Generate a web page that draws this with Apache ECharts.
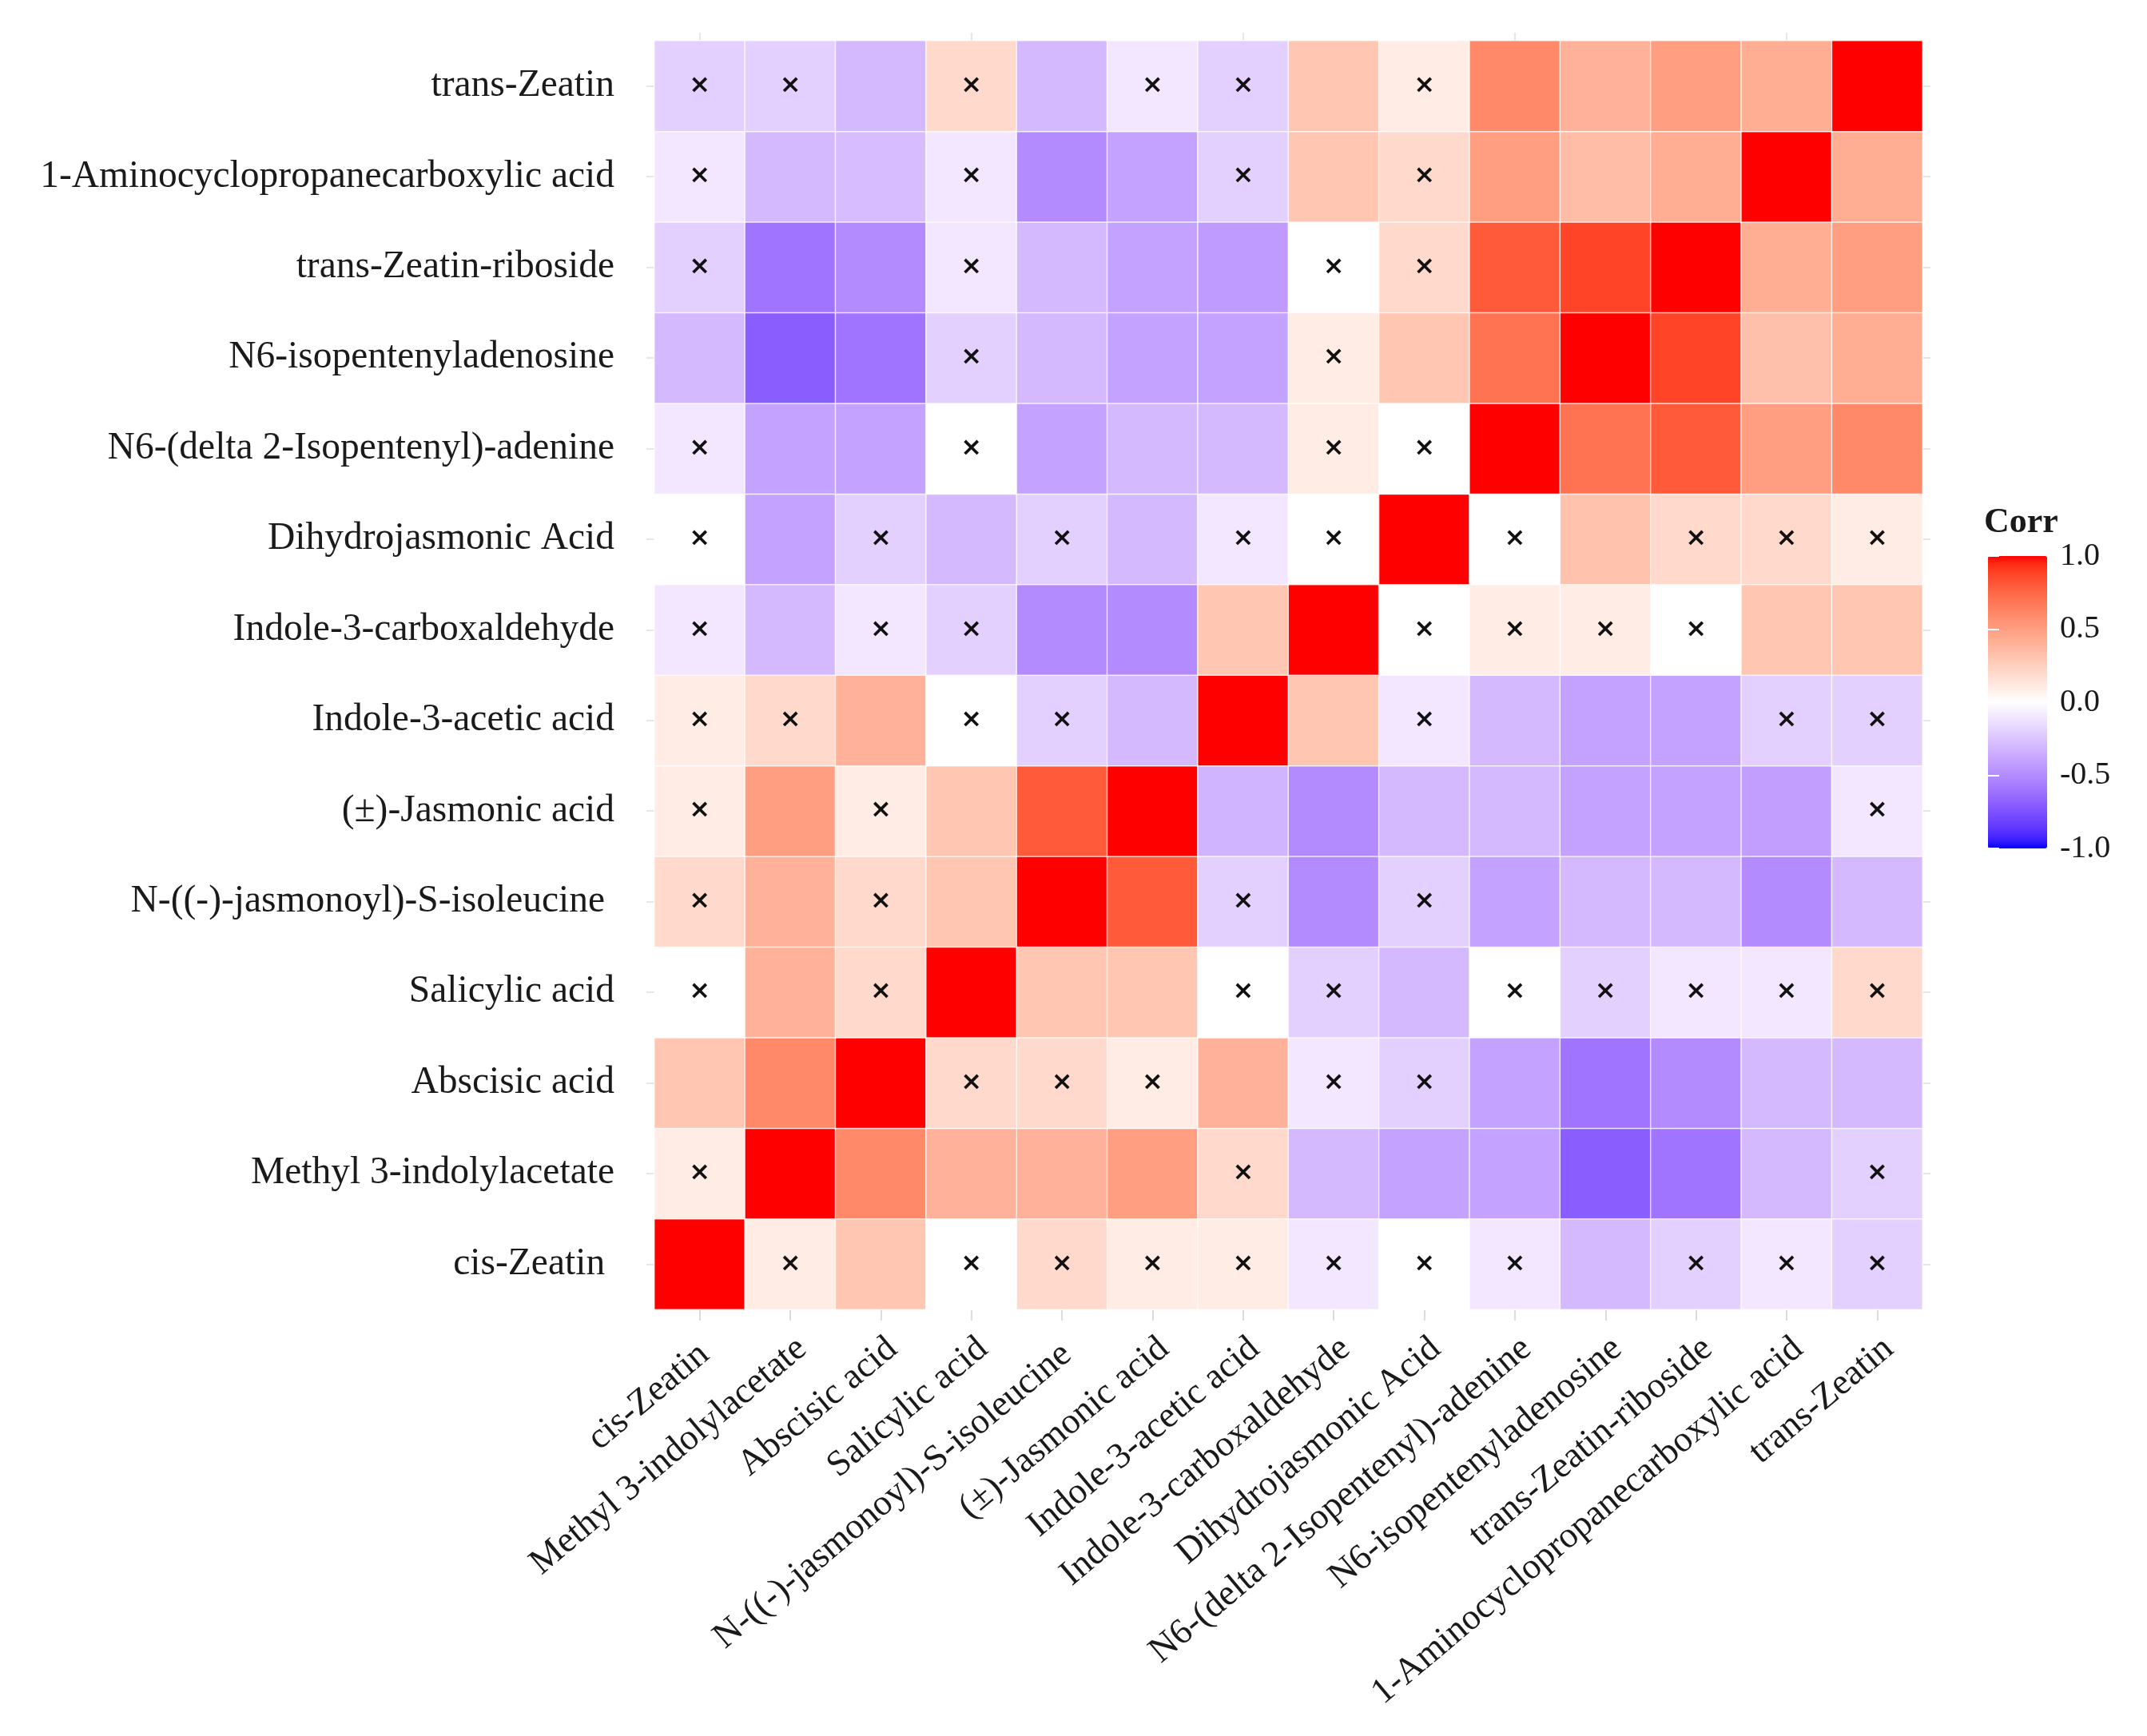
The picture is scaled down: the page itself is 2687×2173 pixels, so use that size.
<!DOCTYPE html>
<html>
<head>
<meta charset="utf-8">
<script src="https://cdn.jsdelivr.net/npm/echarts@6/dist/echarts.min.js"></script>
<style>html,body{margin:0;padding:0;background:#fff;}#chart{width:2687px;height:2173px;}</style>
</head>
<body>
<div id="chart"></div>
<script>
// Categories (bottom-to-top on y, left-to-right on x)
const compounds = [
  'cis-Zeatin ',
  'Methyl 3-indolylacetate',
  'Abscisic acid',
  'Salicylic acid',
  'N-((-)-jasmonoyl)-S-isoleucine ',
  '(±)-Jasmonic acid',
  'Indole-3-acetic acid',
  'Indole-3-carboxaldehyde',
  'Dihydrojasmonic Acid',
  'N6-(delta 2-Isopentenyl)-adenine',
  'N6-isopentenyladenosine',
  'trans-Zeatin-riboside',
  '1-Aminocyclopropanecarboxylic acid',
  'trans-Zeatin'
];

// Correlation rows (values across columns in the compounds order)
const rowCisZeatin   = [1, 0.1, 0.3, 0, 0.2, 0.1, 0.1, -0.1, 0, -0.1, -0.3, -0.2, -0.1, -0.2];
const rowMeIAA       = [0.1, 1, 0.6, 0.4, 0.4, 0.5, 0.2, -0.3, -0.4, -0.4, -0.7, -0.6, -0.3, -0.2];
const rowABA         = [0.3, 0.6, 1, 0.2, 0.2, 0.1, 0.4, -0.1, -0.2, -0.4, -0.6, -0.5, -0.3, -0.3];
const rowSA          = [0, 0.4, 0.2, 1, 0.3, 0.3, 0, -0.2, -0.3, 0, -0.2, -0.1, -0.1, 0.2];
const rowJAIle       = [0.2, 0.4, 0.2, 0.3, 1, 0.8, -0.2, -0.5, -0.2, -0.4, -0.3, -0.3, -0.5, -0.3];
const rowJA          = [0.1, 0.5, 0.1, 0.3, 0.8, 1, -0.32, -0.5, -0.3, -0.3, -0.4, -0.4, -0.42, -0.1];
const rowIAA         = [0.1, 0.2, 0.4, 0, -0.2, -0.3, 1, 0.3, -0.1, -0.3, -0.4, -0.4, -0.2, -0.2];
const rowICA         = [-0.1, -0.3, -0.1, -0.2, -0.5, -0.5, 0.3, 1, 0, 0.1, 0.1, 0, 0.3, 0.3];
const rowDHJA        = [0, -0.4, -0.2, -0.3, -0.2, -0.3, -0.1, 0, 1, 0, 0.32, 0.2, 0.2, 0.1];
const rowIP          = [-0.1, -0.4, -0.4, 0, -0.4, -0.3, -0.3, 0.1, 0, 1, 0.7, 0.8, 0.5, 0.6];
const rowIPA         = [-0.3, -0.7, -0.6, -0.2, -0.3, -0.4, -0.4, 0.1, 0.3, 0.7, 1, 0.88, 0.33, 0.42];
const rowTZR         = [-0.2, -0.6, -0.5, -0.1, -0.3, -0.4, -0.43, 0, 0.2, 0.8, 0.88, 1, 0.42, 0.5];
const rowACC         = [-0.1, -0.3, -0.28, -0.1, -0.5, -0.4, -0.2, 0.3, 0.2, 0.5, 0.35, 0.42, 1, 0.42];
const rowTransZeatin = [-0.2, -0.2, -0.3, 0.2, -0.3, -0.1, -0.2, 0.3, 0.1, 0.6, 0.4, 0.5, 0.42, 1];

// Non-significant flags (1 = marked with ×)
const nsCisZeatin   = [0,1,0,1,1,1,1,1,1,1,0,1,1,1];
const nsMeIAA       = [1,0,0,0,0,0,1,0,0,0,0,0,0,1];
const nsABA         = [0,0,0,1,1,1,0,1,1,0,0,0,0,0];
const nsSA          = [1,0,1,0,0,0,1,1,0,1,1,1,1,1];
const nsJAIle       = [1,0,1,0,0,0,1,0,1,0,0,0,0,0];
const nsJA          = [1,0,1,0,0,0,0,0,0,0,0,0,0,1];
const nsIAA         = [1,1,0,1,1,0,0,0,1,0,0,0,1,1];
const nsICA         = [1,0,1,1,0,0,0,0,1,1,1,1,0,0];
const nsDHJA        = [1,0,1,0,1,0,1,1,0,1,0,1,1,1];
const nsIP          = [1,0,0,1,0,0,0,1,1,0,0,0,0,0];
const nsIPA         = [0,0,0,1,0,0,0,1,0,0,0,0,0,0];
const nsTZR         = [1,0,0,1,0,0,0,1,1,0,0,0,0,0];
const nsACC         = [1,0,0,1,0,0,1,0,1,0,0,0,0,0];
const nsTransZeatin = [1,1,0,1,0,1,1,0,1,0,0,0,0,0];

const valueRows = [rowCisZeatin,rowMeIAA,rowABA,rowSA,rowJAIle,rowJA,rowIAA,rowICA,rowDHJA,rowIP,rowIPA,rowTZR,rowACC,rowTransZeatin];
const nsRows = [nsCisZeatin,nsMeIAA,nsABA,nsSA,nsJAIle,nsJA,nsIAA,nsICA,nsDHJA,nsIP,nsIPA,nsTZR,nsACC,nsTransZeatin];

const heatData = [];
valueRows.forEach((row, y) => row.forEach((v, x) => heatData.push([x, y, v, nsRows[y][x]])));

// Lab-space diverging gradient blue - white - red (like ggplot2 gradient2)
function lin(c){c/=255;return c<=0.04045?c/12.92:Math.pow((c+0.055)/1.055,2.4);}
function gam(c){c=c<=0.0031308?12.92*c:1.055*Math.pow(c,1/2.4)-0.055;return Math.max(0,Math.min(255,Math.round(c*255)));}
function rgb2lab(rgb){
  const [r,g,b]=rgb.map(lin);
  const X=(0.4124564*r+0.3575761*g+0.1804375*b)/0.95047;
  const Y=(0.2126729*r+0.7151522*g+0.0721750*b);
  const Z=(0.0193339*r+0.1191920*g+0.9503041*b)/1.08883;
  const f=t=>t>0.008856?Math.cbrt(t):7.787*t+16/116;
  const fx=f(X),fy=f(Y),fz=f(Z);
  return [116*fy-16,500*(fx-fy),200*(fy-fz)];
}
function lab2rgb(l){
  const [L,a,b]=l;
  const fy=(L+16)/116,fx=fy+a/500,fz=fy-b/200;
  const fi=t=>t*t*t>0.008856?t*t*t:(t-16/116)/7.787;
  const X=fi(fx)*0.95047,Y=fi(fy),Z=fi(fz)*1.08883;
  const r=3.2404542*X-1.5371385*Y-0.4985314*Z;
  const g=-0.9692660*X+1.8760108*Y+0.0415560*Z;
  const bb=0.0556434*X-0.2040259*Y+1.0572252*Z;
  return 'rgb('+[r,g,bb].map(gam).join(',')+')';
}
const labBlue=rgb2lab([0,0,255]), labWhite=rgb2lab([255,255,255]), labRed=rgb2lab([255,0,0]);
const mix=(p,q,t)=>p.map((v,i)=>v+(q[i]-v)*t);
const gradient=[];
for(let i=0;i<=40;i++){
  const v=-1+i*0.05;
  gradient.push(v<0?lab2rgb(mix(labBlue,labWhite,1+v)):lab2rgb(mix(labWhite,labRed,v)));
}

const FONT='Liberation Serif';
const GL=819, GT=51, GW=1587, GH=1588;
const BAR_L=2488, BAR_T=696, BAR_W=74, BAR_H=366;

const chart=echarts.init(document.getElementById('chart'),null,{renderer:'canvas'});
chart.setOption({
  backgroundColor:'#ffffff',
  animation:false,
  grid:[
    {left:GL, top:GT, width:GW, height:GH, containLabel:false, outerBoundsMode:'none'},
    {left:BAR_L, top:BAR_T, width:BAR_W, height:BAR_H, containLabel:false, outerBoundsMode:'none'}
  ],
  xAxis:[
    {type:'category', data:compounds, gridIndex:0, position:'bottom',
      axisLine:{show:false},
      axisTick:{show:true, alignWithLabel:true, length:14, lineStyle:{color:'#dcdcdc', width:2}},
      axisLabel:{rotate:40, margin:26, verticalAlign:'top', fontFamily:FONT, fontSize:45.5, color:'#1a1a1a', interval:0},
      splitLine:{show:false}},
    {type:'category', data:compounds, gridIndex:0, position:'top',
      axisLine:{show:false},
      axisTick:{show:true, alignWithLabel:true, length:10, lineStyle:{color:'#e6e6e6', width:2}},
      axisLabel:{show:false}},
    {type:'value', gridIndex:1, show:false, min:0, max:1}
  ],
  yAxis:[
    {type:'category', data:compounds, gridIndex:0, position:'left',
      axisLine:{show:false},
      axisTick:{show:true, alignWithLabel:true, length:10, lineStyle:{color:'#e6e6e6', width:2}},
      axisLabel:{margin:50, fontFamily:FONT, fontSize:47.5, color:'#1a1a1a', interval:0}},
    {type:'category', data:compounds, gridIndex:0, position:'right',
      axisLine:{show:false},
      axisTick:{show:true, alignWithLabel:true, length:10, lineStyle:{color:'#e6e6e6', width:2}},
      axisLabel:{show:false}},
    {type:'value', gridIndex:1, position:'right', min:-1, max:1, interval:0.5,
      axisLine:{show:false},
      axisTick:{show:true, inside:true, length:14, lineStyle:{color:'#ffffff', width:2}},
      axisLabel:{margin:16, fontFamily:FONT, fontSize:40, color:'#1a1a1a', formatter:v=>v.toFixed(1)},
      splitLine:{show:false}, z:10},
    {type:'value', gridIndex:1, position:'left', min:-1, max:1, interval:0.5,
      axisLine:{show:false},
      axisTick:{show:true, inside:true, length:14, lineStyle:{color:'#ffffff', width:2}},
      axisLabel:{show:false},
      splitLine:{show:false}, z:10}
  ],
  visualMap:{
    type:'continuous', min:-1, max:1, seriesIndex:0, dimension:2,
    orient:'vertical', left:BAR_L, top:BAR_T, itemWidth:BAR_W, itemHeight:BAR_H,
    padding:0, calculable:false, text:null, showLabel:false, hoverLink:false,
    inRange:{color:gradient}, z:1
  },
  title:{text:'Corr', left:2478, top:628, textStyle:{fontFamily:FONT, fontSize:44, fontWeight:'bold', color:'#1a1a1a'}},
  series:[{
    type:'heatmap', xAxisIndex:0, yAxisIndex:0,
    data:heatData,
    encode:{x:0, y:1, value:2},
    itemStyle:{borderColor:'rgba(255,255,255,0.75)', borderWidth:1.5},
    label:{show:true, formatter:p=>p.data[3]?'×':'', fontFamily:'DejaVu Sans', fontSize:32, color:'#111111', fontWeight:'bold'},
    emphasis:{disabled:true}
  }]
});
</script>
</body>
</html>
